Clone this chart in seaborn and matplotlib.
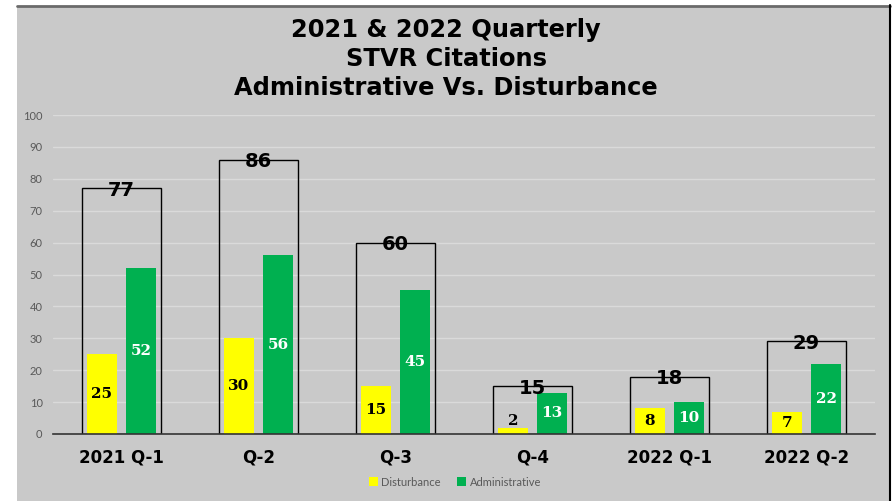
import matplotlib
matplotlib.use("Agg")
import matplotlib.pyplot as plt
from matplotlib.patches import Rectangle, Patch
from matplotlib.lines import Line2D
import seaborn as sns
import pandas as pd

quarters = ["2021 Q-1", "Q-2", "Q-3", "Q-4", "2022 Q-1", "2022 Q-2"]
disturbance = [25, 30, 15, 2, 8, 7]
administrative = [52, 56, 45, 13, 10, 22]
totals = [77, 86, 60, 15, 18, 29]
y_ticks = [0, 10, 20, 30, 40, 50, 60, 70, 80, 90, 100]
title = "2021 & 2022 Quarterly\nSTVR Citations\nAdministrative Vs. Disturbance"

BG = "#C9C9C9"
YELLOW = "#FFFF00"
GREEN = "#00B050"

sns.set_style("white")
plt.rcParams["font.family"] = ["DejaVu Sans"]

fig = plt.figure(figsize=(8.92, 5.01), dpi=100)
fig.patch.set_facecolor("white")
# chart area background
fig.patches.append(Rectangle((16.5 / 892, 0), (889 - 16.5) / 892, 1 - 5.5 / 501,
                             transform=fig.transFigure, facecolor=BG, edgecolor="none", zorder=-10))
fig.lines.append(Line2D([16.5 / 892, 890 / 892], [1 - 5.5 / 501] * 2, transform=fig.transFigure,
                        color="#6a6a6a", lw=2, zorder=-9))
fig.lines.append(Line2D([890 / 892] * 2, [0, 1 - 5 / 501], transform=fig.transFigure,
                        color="black", lw=1.5, zorder=-9))

ax = fig.add_axes([53 / 892, 1 - 434 / 501, (875 - 53) / 892, (434 - 115) / 501])
ax.set_facecolor("none")

df_tot = pd.DataFrame({"quarter": quarters, "total": totals})
sns.barplot(data=df_tot, x="quarter", y="total", order=quarters, width=0.57, ax=ax,
            color="black", saturation=1, errorbar=None)
for p in ax.patches:
    p.set_facecolor("none")
    p.set_edgecolor("black")
    p.set_linewidth(1.0)
    p.set_zorder(2)
n_tot = len(ax.patches)

df = pd.DataFrame({
    "quarter": quarters * 2,
    "value": disturbance + administrative,
    "type": ["Disturbance"] * len(quarters) + ["Administrative"] * len(quarters),
})
sns.barplot(data=df, x="quarter", y="value", hue="type", order=quarters,
            hue_order=["Disturbance", "Administrative"],
            palette={"Disturbance": YELLOW, "Administrative": GREEN},
            width=0.57, gap=0.21, saturation=1, errorbar=None, ax=ax, legend=False)
for p in ax.patches[n_tot:]:
    p.set_edgecolor("none")
    p.set_zorder(3)

# data labels
lab_kw = dict(ha="center", va="center", fontsize=11, fontweight="bold",
              family="DejaVu Serif", zorder=5)
for i, (d, a, t) in enumerate(zip(disturbance, administrative, totals)):
    xd, xa = i - 0.1425, i + 0.1425
    yd = d + 2.0 if d < 5 else d / 2
    ax.text(xd, yd, str(d), color="black", **lab_kw)
    ax.text(xa, a / 2, str(a), color="white", **lab_kw)
    ax.text(i, t - 0.6, str(t), ha="center", va="center", fontsize=14,
            fontweight="bold", color="black", zorder=5)

ax.set_ylim(0, 100)
ax.set_xlim(-0.5, len(quarters) - 0.5)
ax.set_yticks(y_ticks)
ax.set_yticklabels([str(v) for v in y_ticks], fontsize=8, color="#595959", family="Lato")
ax.set_xticks(range(len(quarters)))
ax.set_xticklabels(quarters, fontsize=12, fontweight="bold", color="black")
ax.tick_params(axis="y", length=0, pad=7.5)
ax.tick_params(axis="x", length=0, pad=10.5)
ax.set_xlabel("")
ax.set_ylabel("")
ax.grid(axis="y", color="#DADADA", linewidth=1)
ax.set_axisbelow(True)
for s in ["top", "right", "left"]:
    ax.spines[s].set_visible(False)
ax.spines["bottom"].set_color("#333333")
ax.spines["bottom"].set_linewidth(1.2)
ax.spines["bottom"].set_zorder(4)

fig.text(0.5, 1 - 59 / 501, title, ha="center", va="center", fontsize=17.4,
         fontweight="bold", linespacing=1.28, color="black")

handles = [Patch(facecolor=YELLOW, edgecolor="none"), Patch(facecolor=GREEN, edgecolor="none")]
leg = fig.legend(handles, ["Disturbance", "Administrative"], loc="center",
                 bbox_to_anchor=(455 / 892, 1 - 482 / 501), ncol=2, frameon=False,
                 handlelength=0.8, handleheight=0.8, handletextpad=0.3, columnspacing=1.5,
                 prop={"family": "Lato", "size": 8})
for t in leg.get_texts():
    t.set_color("#595959")

fig.savefig("out.png", dpi=100, facecolor=fig.get_facecolor())
